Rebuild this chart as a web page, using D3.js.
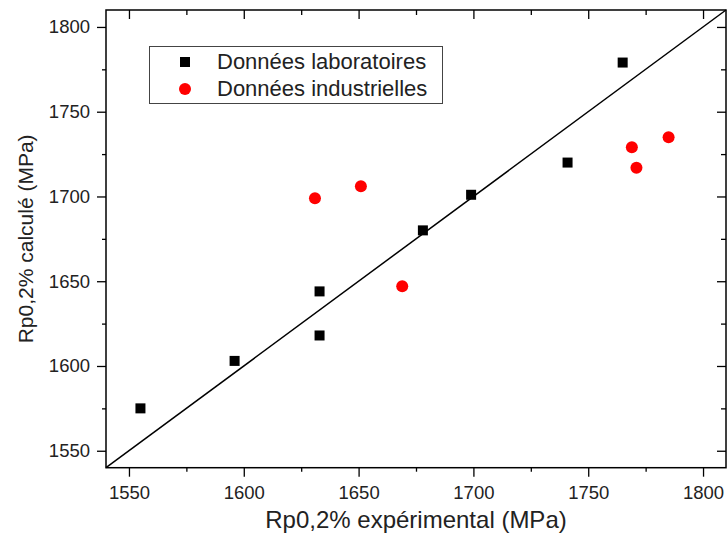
<!DOCTYPE html>
<html lang="fr">
<head>
<meta charset="utf-8">
<title>Rp0,2% calculé vs expérimental</title>
<script src="https://cdn.jsdelivr.net/npm/d3@7"></script>
<style>
  body { margin: 0; background: #fff; }
  svg { font-family: "Liberation Sans", Arial, sans-serif; }
</style>
</head>
<body>
<script>
// data
var labExp  = [1555, 1596, 1633, 1633, 1678, 1699, 1741, 1765];
var labCalc = [1575, 1603, 1644, 1618, 1680, 1701, 1720, 1779];
var indExp  = [1631, 1651, 1669, 1769, 1771, 1785];
var indCalc = [1699, 1706, 1647, 1729, 1717, 1735];
var majorTicks = [1550, 1600, 1650, 1700, 1750, 1800];
var minorTicks = [1575, 1625, 1675, 1725, 1775];
var legendLabels = ["Données laboratoires", "Données industrielles"];

var w = 728, h = 547;
var pLeft = 106, pRight = 726, pTop = 10, pBottom = 467.7;

var x = d3.scaleLinear().domain([1540, 1810]).range([pLeft, pRight]);
var y = d3.scaleLinear().domain([1540, 1810]).range([pBottom, pTop]);

var svg = d3.select("body").append("svg")
  .attr("width", w)
  .attr("height", h);

// minor ticks first
function minorAxis(axis, size) {
  return axis.tickValues(minorTicks).tickSize(size).tickFormat("");
}
svg.append("g").attr("transform", "translate(0," + pBottom + ")")
  .call(minorAxis(d3.axisBottom(x), 4));
svg.append("g").attr("transform", "translate(" + pLeft + ",0)")
  .call(minorAxis(d3.axisLeft(y), 4));
svg.append("g").attr("transform", "translate(0," + pTop + ")")
  .call(minorAxis(d3.axisTop(x), -5));
svg.append("g").attr("transform", "translate(" + pRight + ",0)")
  .call(minorAxis(d3.axisRight(y), -5));

// major ticks
svg.append("g").attr("transform", "translate(0," + pBottom + ")")
  .call(d3.axisBottom(x).tickValues(majorTicks).tickSize(9).tickPadding(9).tickFormat(d3.format("d")));
svg.append("g").attr("transform", "translate(" + pLeft + ",0)")
  .call(d3.axisLeft(y).tickValues(majorTicks).tickSize(9).tickPadding(7).tickFormat(d3.format("d")));
svg.append("g").attr("transform", "translate(0," + pTop + ")")
  .call(d3.axisTop(x).tickValues(majorTicks).tickSize(-9).tickFormat(""));
svg.append("g").attr("transform", "translate(" + pRight + ",0)")
  .call(d3.axisRight(y).tickValues(majorTicks).tickSize(-9).tickFormat(""));

svg.selectAll(".domain").remove();
svg.selectAll(".tick line").attr("stroke", "#000").attr("stroke-width", 1.3);
svg.selectAll(".tick text")
  .attr("font-family", "Liberation Sans, Arial, sans-serif")
  .attr("font-size", "18.5px")
  .attr("fill", "#222");

// frame
svg.append("rect")
  .attr("x", pLeft).attr("y", pTop)
  .attr("width", pRight - pLeft).attr("height", pBottom - pTop)
  .attr("fill", "none")
  .attr("stroke", "#000")
  .attr("stroke-width", 1.5);

// y = x line
svg.append("line")
  .attr("x1", x(1540)).attr("y1", y(1540))
  .attr("x2", x(1810)).attr("y2", y(1810))
  .attr("stroke", "#000")
  .attr("stroke-width", 1.5);

// lab points (squares)
var sq = 10;
svg.selectAll("rect.lab")
  .data(d3.range(labExp.length))
  .enter()
  .append("rect")
  .attr("class", "lab")
  .attr("x", function(i) { return x(labExp[i]) - sq / 2; })
  .attr("y", function(i) { return y(labCalc[i]) - sq / 2; })
  .attr("width", sq)
  .attr("height", sq)
  .attr("fill", "#000");

// industrial points (circles)
svg.selectAll("circle.ind")
  .data(d3.range(indExp.length))
  .enter()
  .append("circle")
  .attr("class", "ind")
  .attr("cx", function(i) { return x(indExp[i]); })
  .attr("cy", function(i) { return y(indCalc[i]); })
  .attr("r", 6)
  .attr("fill", "#ff0000");

// legend
var lg = svg.append("g");
lg.append("rect")
  .attr("x", 149.5).attr("y", 46.5)
  .attr("width", 293).attr("height", 57)
  .attr("fill", "#fff")
  .attr("stroke", "#444")
  .attr("stroke-width", 1);
lg.append("rect")
  .attr("x", 185 - sq / 2).attr("y", 62 - sq / 2)
  .attr("width", sq).attr("height", sq)
  .attr("fill", "#000");
lg.append("circle")
  .attr("cx", 185).attr("cy", 89)
  .attr("r", 6)
  .attr("fill", "#ff0000");
lg.selectAll("text")
  .data(legendLabels)
  .enter()
  .append("text")
  .attr("x", 217)
  .attr("y", function(d, i) { return 69 + i * 27; })
  .attr("font-size", "22px")
  .attr("fill", "#222")
  .text(function(d) { return d; });

// axis titles
svg.append("text")
  .attr("x", (pLeft + pRight) / 2)
  .attr("y", 528)
  .attr("text-anchor", "middle")
  .attr("font-size", "24px")
  .attr("fill", "#222")
  .text("Rp0,2% expérimental (MPa)");

svg.append("text")
  .attr("transform", "translate(33," + ((pTop + pBottom) / 2) + ") rotate(-90)")
  .attr("text-anchor", "middle")
  .attr("font-size", "21px")
  .attr("fill", "#222")
  .text("Rp0,2% calculé (MPa)");
</script>
</body>
</html>
